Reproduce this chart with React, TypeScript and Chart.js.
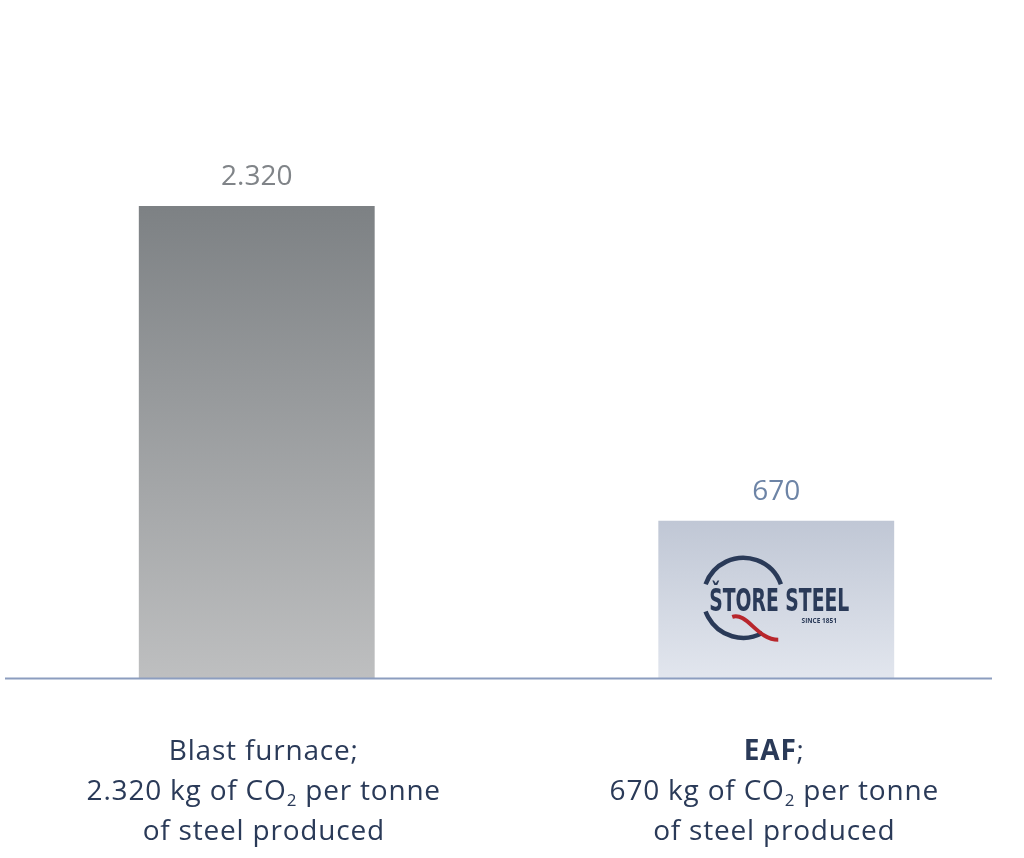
import { useEffect, useRef } from 'react'
import { Chart, registerables } from 'chart.js'

Chart.register(...registerables)

// data
const categories = ['Blast furnace', 'EAF']
const co2PerTonne = [2320, 670]
const categoryLines = [
  ['Blast furnace;', '2.320 kg of CO₂ per tonne', 'of steel produced'],
  ['**EAF**;', '670 kg of CO₂ per tonne', 'of steel produced'],
]
const valueColors = ['#808488', '#6d84a6']
const gradientTop = ['#7d8184', '#c0c7d5']
const gradientBottom = ['#bebfc0', '#e2e6ee']
const showLogo = [false, true]

const Y_MIN = -160
const Y_MAX = 3400
const FONT = '"Open Sans", "Noto Sans", sans-serif'
const NAVY = '#2a3a58'
// the labels under the bars are not quite centred on them in the original
const LABEL_SHIFT = [7, -2]

const fmt = (v: number) => String(v).replace(/\B(?=(\d{3})+(?!\d))/g, '.')

// draw a line of text, with **bold** parts and ₂ as subscript, centred on x
function drawRich(ctx: CanvasRenderingContext2D, text: string, x: number, y: number, size: number) {
  const parts: { t: string; bold: boolean; sub: boolean }[] = []
  text.split('**').forEach((chunk, i) => {
    const bold = i % 2 === 1
    chunk.split(/(₂)/).forEach((s) => {
      if (!s) return
      if (s === '₂') parts.push({ t: '2', bold, sub: true })
      else parts.push({ t: s, bold, sub: false })
    })
  })
  const fontFor = (p: { bold: boolean; sub: boolean }) =>
    `${p.bold ? 'bold ' : ''}${p.sub ? Math.round(size * 0.62) : size}px ${FONT}`
  ;(ctx as any).letterSpacing = '0.8px'
  let total = 0
  const widths = parts.map((p) => {
    ctx.font = fontFor(p)
    const w = ctx.measureText(p.t).width
    total += w
    return w
  })
  let cx = x - total / 2
  ctx.textAlign = 'left'
  ctx.textBaseline = 'alphabetic'
  parts.forEach((p, i) => {
    ctx.font = fontFor(p)
    ctx.fillText(p.t, cx, y + (p.sub ? size * 0.22 : 0))
    cx += widths[i]
  })
  ;(ctx as any).letterSpacing = '0px'
}

function drawLogo(ctx: CanvasRenderingContext2D, x: number, y: number) {
  const cx = x - 33
  const cy = y - 2
  const r = 40
  ctx.save()
  ctx.strokeStyle = NAVY
  ctx.lineWidth = 4.5
  ctx.beginPath()
  ctx.arc(cx, cy, r, Math.PI * 1.11, Math.PI * 1.89)
  ctx.stroke()
  ctx.beginPath()
  ctx.arc(cx, cy, r, Math.PI * 0.34, Math.PI * 0.89)
  ctx.stroke()
  // red tail
  ctx.strokeStyle = '#b8262c'
  ctx.lineWidth = 4
  ctx.beginPath()
  ctx.moveTo(cx - 11, cy + 19)
  ctx.bezierCurveTo(cx + 4, cy + 14, cx + 14, cy + 42, cx + 35, cy + 42)
  ctx.stroke()
  // wordmark
  const text = 'ŠTORE STEEL'
  ctx.font = `bold 32px "DejaVu Sans Condensed", "Liberation Sans Narrow", sans-serif`
  const w = ctx.measureText(text).width
  ctx.translate(x + 3, y + 11)
  ctx.scale(140 / w, 1)
  ctx.fillStyle = NAVY
  ctx.textAlign = 'center'
  ctx.textBaseline = 'alphabetic'
  ctx.fillText(text, 0, 0)
  ctx.restore()
  ctx.save()
  ctx.fillStyle = NAVY
  ctx.font = `bold 6.5px ${FONT}`
  ctx.textAlign = 'center'
  ctx.fillText('SINCE 1851', x + 43, y + 21)
  ctx.restore()
}

const decorations = {
  id: 'decorations',
  afterDatasetsDraw(chart: any) {
    const { ctx } = chart
    const meta = chart.getDatasetMeta(0)
    const yScale = chart.scales.y
    const xScale = chart.scales.x
    ctx.save()
    // baseline
    const by = Math.round(yScale.getPixelForValue(Y_MIN)) - 0.5
    ctx.strokeStyle = '#8c9dbf'
    ctx.lineWidth = 2
    ctx.beginPath()
    ctx.moveTo(8, by)
    ctx.lineTo(chart.width - 44, by)
    ctx.stroke()

    meta.data.forEach((bar: any, i: number) => {
      // value label
      ctx.fillStyle = valueColors[i]
      ctx.font = `28px ${FONT}`
      ctx.textAlign = 'center'
      ctx.textBaseline = 'middle'
      ctx.fillText(fmt(co2PerTonne[i]), bar.x, bar.y - 29)
      if (showLogo[i]) drawLogo(ctx, bar.x, (bar.y + bar.base) / 2)
      // category label
      const lx = xScale.getPixelForValue(i) + LABEL_SHIFT[i]
      ctx.fillStyle = NAVY
      categoryLines[i].forEach((line, j) => {
        drawRich(ctx, line, lx, by + 81 + j * 40, 28)
      })
    })
    ctx.restore()
  },
}

export default function App() {
  const canvasRef = useRef<HTMLCanvasElement>(null)

  useEffect(() => {
    document.body.style.margin = '0'
    document.body.style.overflow = 'hidden'
    if (!canvasRef.current) return
    const chart = new Chart(canvasRef.current, {
      type: 'bar',
      data: {
        labels: categories,
        datasets: [
          {
            data: co2PerTonne,
            base: Y_MIN,
            barPercentage: 0.454,
            categoryPercentage: 1,
            borderWidth: 0,
            backgroundColor: (c: any) => {
              const ch = c.chart
              const y = ch.scales?.y
              if (!y || c.dataIndex === undefined) return gradientTop[0]
              const top = y.getPixelForValue(co2PerTonne[c.dataIndex])
              const bottom = y.getPixelForValue(Y_MIN)
              if (!isFinite(top) || !isFinite(bottom)) return gradientTop[c.dataIndex]
              const g = ch.ctx.createLinearGradient(0, top, 0, bottom)
              g.addColorStop(0, gradientTop[c.dataIndex])
              g.addColorStop(1, gradientBottom[c.dataIndex])
              return g
            },
          } as any,
        ],
      },
      options: {
        responsive: true,
        maintainAspectRatio: false,
        animation: false,
        layout: { padding: { top: 0, bottom: 179, left: 0, right: 0 } },
        scales: {
          x: { display: false },
          y: { display: false, min: Y_MIN, max: Y_MAX },
        },
        plugins: {
          legend: { display: false },
          tooltip: { enabled: false },
        },
      },
      plugins: [decorations],
    })
    return () => chart.destroy()
  }, [])

  return (
    <div style={{ position: 'fixed', left: -3, top: 0, width: 1039, height: 858, background: '#fff' }}>
      <canvas ref={canvasRef} />
    </div>
  )
}
